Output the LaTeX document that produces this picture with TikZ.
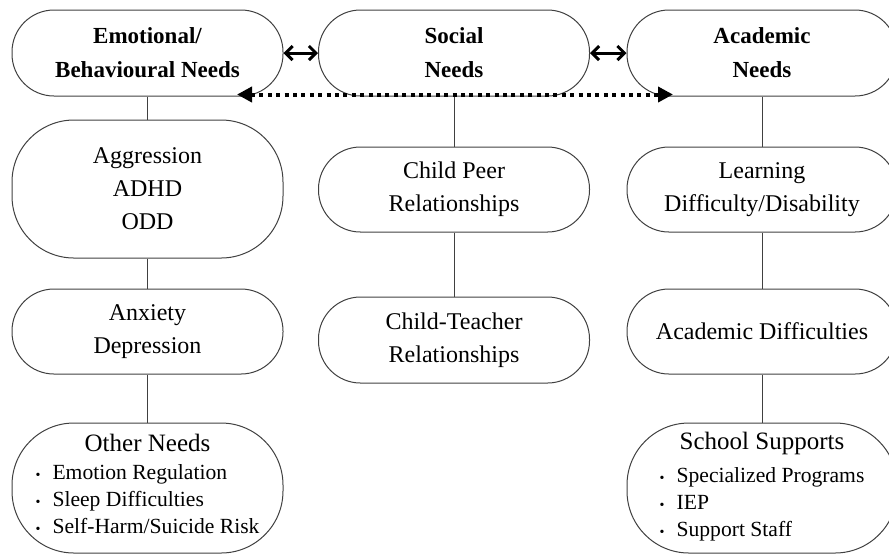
\documentclass[tikz,border=0pt]{standalone}
\usepackage{fontspec}
\setmainfont{Liberation Serif}
\usetikzlibrary{arrows.meta, positioning}
\newcommand{\blt}{\makebox[8.5pt][l]{\fontsize{7}{7}\selectfont\textbullet}}

\begin{document}
\begin{tikzpicture}[
        on grid, font=\fontsize{12}{16.5}\selectfont,
        need/.style={draw=black!75, line width=0.5pt, rounded corners=21pt, align=center,
          minimum width=135.5pt, minimum height=42.5pt, inner sep=1pt},
        bigneed/.style={need, rounded corners=31pt},
        head/.style={need, font=\bfseries\fontsize{11.5}{17}\selectfont, minimum height=43pt},
        link/.style={draw=black!75, line width=0.5pt},
        both/.style={line width=1.5pt, {Straight Barb[length=3.5pt,width=7pt]}-{Straight Barb[length=3.5pt,width=7pt]}},
        spill/.style={line width=2pt, dash pattern=on 2pt off 2.2pt,
          {Triangle[length=7.5pt,width=7.5pt]}-{Triangle[length=7.5pt,width=7.5pt]}},
        ]
        \useasboundingbox (0,0) rectangle (444.5pt,-277pt);

        % three kinds of needs
        \node[head]              (emo) at (73.75pt,-26.5pt)  {Emotional/\\Behavioural Needs};
        \node[head]              (soc) [right=153.25pt of emo] {Social\\Needs};
        \node[head, minimum width=135pt] (aca) [right=154pt of soc] {Academic\\Needs};

        % emotional / behavioural column
        \node[bigneed, minimum height=69pt] (agg) [below=68pt of emo]    {Aggression\\ADHD\\ODD};
        \node[need]                         (anx) [below=71.25pt of agg] {Anxiety\\Depression};
        \node[bigneed, minimum height=65pt] (oth) [below=78.25pt of anx]
          {\fontsize{12.5}{15}\selectfont Other Needs\\[3.5pt]
           \fontsize{10.8}{13.5}\selectfont
           \begin{tabular}{@{}l@{}}\blt Emotion Regulation\\ \blt Sleep Difficulties\\ \blt Self-Harm/Suicide Risk\end{tabular}};

        % social column
        \node[need]                  (peer)  [below=68.25pt of soc]  {Child Peer\\Relationships};
        \node[need, minimum height=43pt] (teach) [below=75.25pt of peer] {Child-Teacher\\Relationships};

        % academic column
        \node[need, minimum width=135pt] (lrn)  [below=68.25pt of aca] {Learning\\Difficulty/Disability};
        \node[need, minimum width=135pt] (adif) [below=71pt of lrn]    {Academic Difficulties};
        \node[bigneed, minimum width=135pt, minimum height=65pt] (sch) [below=78.25pt of adif]
          {\fontsize{12.5}{15}\selectfont School Supports\\[3.5pt]
           \fontsize{10.8}{13.5}\selectfont
           \begin{tabular}{@{}l@{}}\blt Specialized Programs\\ \blt IEP\\ \blt Support Staff\end{tabular}};

        \path[link] (emo) edge (agg) (agg) edge (anx) (anx) edge (oth)
                    (soc) edge (peer) (peer) edge (teach)
                    (aca) edge (lrn) (lrn) edge (adif) (adif) edge (sch);

        \draw[both] (emo) -- (soc);
        \draw[both] (soc) -- (aca);
        \draw[spill] ([xshift=44.75pt,yshift=1pt]emo.south) -- ([xshift=-44.5pt,yshift=1pt]aca.south);
      \end{tikzpicture}
\end{document}
